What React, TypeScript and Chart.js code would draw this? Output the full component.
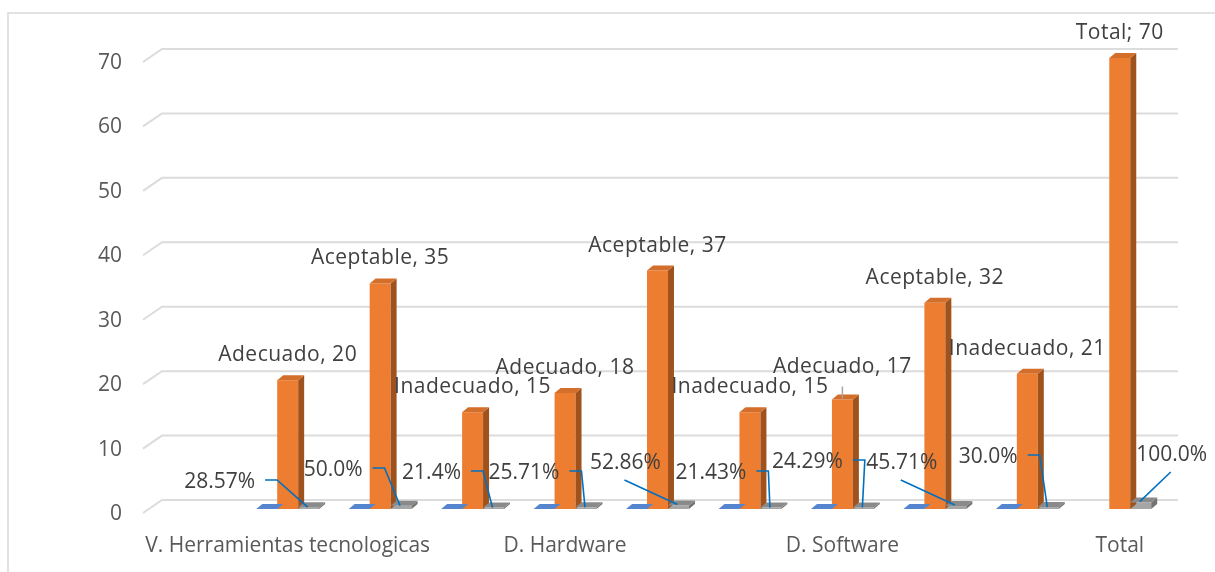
import React, { useEffect, useRef } from "react";
import { Chart, registerables } from "chart.js";

Chart.register(...registerables);

// ---------- data ----------
const categories = ["", "V. Herramientas tecnologicas", "", "", "D. Hardware", "", "", "D. Software", "", "", "Total"];
const levelNames = ["", "Adecuado", "Aceptable", "Inadecuado", "Adecuado", "Aceptable", "Inadecuado", "Adecuado", "Aceptable", "Inadecuado", "Total"];
const levelSeparators = ["", ", ", ", ", ", ", ", ", ", ", ", ", ", ", ", ", ", ", "; "];
const blueValues = [null, 0, 0, 0, 0, 0, 0, 0, 0, 0, null];
const counts = [null, 20, 35, 15, 18, 37, 15, 17, 32, 21, 70];
const shares = [null, 0.2857, 0.5, 0.214, 0.2571, 0.5286, 0.2143, 0.2429, 0.4571, 0.3, 1.0];
const shareLabels = ["", "28.57%", "50.0%", "21.4%", "25.71%", "52.86%", "21.43%", "24.29%", "45.71%", "30.0%", "100.0%"];
const yMin = 0;
const yMax = 70;
const yStep = 10;

// ---------- label placement (manual moves, as in the source) ----------
const countLift = [0, 25, 25, 25, 25, 25, 25, 32, 25, 25, 25];
const countLeader = [false, false, false, false, false, false, false, true, false, false, false];
const shareDX = [0, -89, -68, -62, -62, -53, -60, -56, -54, -60, 31];
const shareDY = [0, -27, -39, -36, -36, -46, -36, -47, -46, -52, -54];
const shareLeader = ["", "elbow", "elbow", "elbow", "elbow", "diag", "elbow", "elbow", "diag", "elbow", "diag"];

// ---------- style ----------
const FONT = "'Open Sans', 'Liberation Sans', sans-serif";
const DX = 6;
const DY = -5;
const faces = [
  { front: "#4472C4", top: "#5585CF", side: "#2F5597" },
  { front: "#ED7D31", top: "#D46E2B", side: "#A0521D" },
  { front: "#A5A5A5", top: "#8A8A8A", side: "#737373" },
];

const frame = {
  id: "frame",
  beforeDraw(chart: any) {
    const ctx = chart.ctx;
    ctx.save();
    ctx.fillStyle = "#FFFFFF";
    ctx.fillRect(0, 0, chart.width, chart.height);
    ctx.strokeStyle = "#D9D9D9";
    ctx.lineWidth = 1.5;
    ctx.beginPath();
    ctx.moveTo(8, chart.height + 5);
    ctx.lineTo(8, 13);
    ctx.lineTo(chart.width + 5, 13);
    ctx.stroke();
    ctx.restore();
  },
};

const grid3d = {
  id: "grid3d",
  beforeDatasetsDraw(chart: any) {
    const ctx = chart.ctx;
    const ys = chart.scales.y;
    const { left, right } = chart.chartArea;
    ctx.save();
    ctx.strokeStyle = "#DCDCDC";
    ctx.lineWidth = 2;
    ys.ticks.forEach((t: any) => {
      const py = ys.getPixelForValue(t.value);
      ctx.beginPath();
      ctx.moveTo(left - 6, py + 4);
      ctx.lineTo(left + 13, py - 9);
      ctx.lineTo(right + 12, py - 9);
      ctx.stroke();
    });
    ctx.restore();
  },
};

const bars3d = {
  id: "bars3d",
  afterDatasetsDraw(chart: any) {
    const ctx = chart.ctx;
    ctx.save();
    chart.data.datasets.forEach((ds: any, di: number) => {
      const meta = chart.getDatasetMeta(di);
      const f = faces[di];
      meta.data.forEach((bar: any, i: number) => {
        if (ds.data[i] == null) return;
        const { x, y, base, width } = bar.getProps(["x", "y", "base", "width"], true);
        const l = x - width / 2;
        const r = x + width / 2;
        ctx.fillStyle = f.side;
        ctx.beginPath();
        ctx.moveTo(r, y);
        ctx.lineTo(r + DX, y + DY);
        ctx.lineTo(r + DX, base + DY);
        ctx.lineTo(r, base);
        ctx.closePath();
        ctx.fill();
        ctx.fillStyle = f.top;
        ctx.beginPath();
        ctx.moveTo(l, y);
        ctx.lineTo(l + DX, y + DY);
        ctx.lineTo(r + DX, y + DY);
        ctx.lineTo(r, y);
        ctx.closePath();
        ctx.fill();
      });
    });
    ctx.restore();
  },
};

const labels = {
  id: "labels",
  afterDatasetsDraw(chart: any) {
    const ctx = chart.ctx;
    const ys = chart.scales.y;
    const y0 = ys.getPixelForValue(0);
    ctx.save();
    ctx.textBaseline = "middle";
    // count labels on orange bars
    ctx.font = `21px ${FONT}`;
    (ctx as any).letterSpacing = "0.5px";
    const om = chart.getDatasetMeta(1);
    om.data.forEach((bar: any, i: number) => {
      if (counts[i] == null) return;
      const { x, y } = bar.getProps(["x", "y"], true);
      const ty = y - countLift[i];
      ctx.textAlign = "center";
      ctx.fillStyle = "#404040";
      ctx.fillText(`${levelNames[i]}${levelSeparators[i]}${counts[i]}`, x, ty);
      if (countLeader[i]) {
        ctx.strokeStyle = "#A6A6A6";
        ctx.lineWidth = 1.5;
        ctx.beginPath();
        ctx.moveTo(x, ty + 19);
        ctx.lineTo(x, y - 1);
        ctx.stroke();
      }
    });
    // share labels on gray bars
    (ctx as any).letterSpacing = "0px";
    ctx.font = `21px ${FONT}`;
    const gm = chart.getDatasetMeta(2);
    gm.data.forEach((bar: any, i: number) => {
      if (shares[i] == null) return;
      const { x, y } = bar.getProps(["x", "y"], true);
      const tx = x + shareDX[i];
      const ty = y0 + shareDY[i];
      ctx.textAlign = "center";
      ctx.fillStyle = "#404040";
      ctx.fillText(shareLabels[i], tx, ty);
      const w = ctx.measureText(shareLabels[i]).width;
      ctx.strokeStyle = "#0070C0";
      ctx.lineWidth = 1.6;
      ctx.beginPath();
      if (shareLeader[i] === "elbow") {
        const sx = tx + w / 2 + 10;
        ctx.moveTo(sx, ty - 2);
        ctx.lineTo(sx + 12, ty - 2);
        ctx.lineTo(x - 1, y);
      } else {
        ctx.moveTo(tx - 1, ty + 17);
        ctx.lineTo(x - 1, y - 1);
      }
      ctx.stroke();
    });
    ctx.restore();
  },
};

export default function App() {
  const ref = useRef<HTMLCanvasElement | null>(null);
  useEffect(() => {
    if (!ref.current) return;
    const chart = new Chart(ref.current, {
      type: "bar",
      data: {
        labels: categories,
        datasets: [
          { label: "Base", data: blueValues as any, backgroundColor: faces[0].front, categoryPercentage: 0.68, barPercentage: 1 },
          { label: "Frecuencia", data: counts as any, backgroundColor: faces[1].front, categoryPercentage: 0.68, barPercentage: 1 },
          { label: "Porcentaje", data: shares as any, backgroundColor: faces[2].front, categoryPercentage: 0.68, barPercentage: 1 },
        ],
      },
      options: {
        animation: false,
        responsive: false,
        devicePixelRatio: 1,
        layout: { padding: { left: 0, right: 49, top: 58, bottom: 0 } },
        plugins: { legend: { display: false }, tooltip: { enabled: false } },
        scales: {
          x: {
            grid: { display: false, drawTicks: false },
            border: { display: false },
            ticks: {
              autoSkip: false,
              maxRotation: 0,
              minRotation: 0,
              padding: 24,
              color: "#595959",
              font: { family: FONT, size: 21 },
            },
            afterFit: (s: any) => {
              s.height = 63;
            },
          },
          y: {
            min: yMin,
            max: yMax,
            grid: { display: false, drawTicks: false },
            border: { display: false },
            ticks: {
              stepSize: yStep,
              padding: 27,
              labelOffset: 5,
              color: "#595959",
              font: { family: FONT, size: 21 },
            },
            afterFit: (s: any) => {
              s.width = 149;
            },
          },
        },
      },
      plugins: [frame, grid3d, bars3d, labels],
    });
    return () => chart.destroy();
  }, []);
  return (
    <div style={{ position: "absolute", left: 0, top: 0, width: 1215, height: 572 }}>
      <canvas ref={ref} width={1215} height={572} />
    </div>
  );
}
